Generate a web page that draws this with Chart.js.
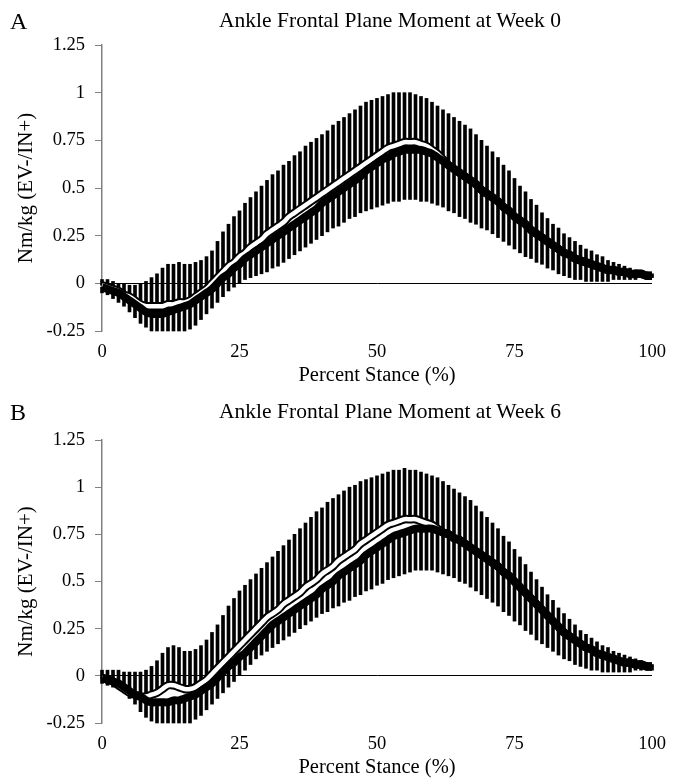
<!DOCTYPE html>
<html>
<head>
<meta charset="utf-8">
<script src="https://cdn.jsdelivr.net/npm/chart.js@4.4.1/dist/chart.umd.min.js"></script>
<style>
    body { margin: 0; background: #fff; }
    .panel { position: absolute; left: 0; width: 685px; }
    .letter { position: absolute; left: 10px; font: 24px "Liberation Serif"; line-height: 1; color: #000; }
    .title { position: absolute; left: 390px; transform: translateX(-50%); white-space: nowrap; font: 21.5px "Liberation Serif"; line-height: 1; color: #000; }
</style>
</head>
<body>
<div class="panel" style="top:0;height:392px">
    <canvas id="week0" width="685" height="392"></canvas>
    <div class="letter" style="top:9px">A</div>
    <div class="title" style="top:10px">Ankle Frontal Plane Moment at Week 0</div>
</div>
<div class="panel" style="top:395px;height:389px">
    <canvas id="week6" width="685" height="389"></canvas>
    <div class="letter" style="top:5px">B</div>
    <div class="title" style="top:6px">Ankle Frontal Plane Moment at Week 6</div>
</div>
<script>
// Categories
const stance = Array.from({length: 101}, (_, i) => i);
const xTicks = [0, 25, 50, 75, 100];
const yTicks = [-0.25, 0, 0.25, 0.5, 0.75, 1, 1.25];
const yTickLabels = ['-0.25', '0', '0.25', '0.5', '0.75', '1', '1.25'];

// Week 0: black group mean, white group mean, white mean + SD, black mean - SD
const wk0Black = [
    -0.02, -0.03, -0.04, -0.05, -0.07, -0.09, -0.11, -0.13, -0.15, -0.16,
    -0.16, -0.16, -0.15, -0.14, -0.13, -0.12, -0.11, -0.09, -0.07, -0.05,
    -0.03, 0.00, 0.03, 0.05, 0.08, 0.10, 0.13, 0.15, 0.17, 0.19,
    0.21, 0.23, 0.25, 0.27, 0.29, 0.31, 0.33, 0.35, 0.37, 0.39,
    0.42, 0.44, 0.46, 0.48, 0.50, 0.52, 0.54, 0.56, 0.59, 0.61,
    0.63, 0.65, 0.66, 0.68, 0.69, 0.70, 0.70, 0.70, 0.70, 0.69,
    0.68, 0.66, 0.64, 0.62, 0.60, 0.58, 0.56, 0.54, 0.52, 0.49,
    0.47, 0.45, 0.43, 0.40, 0.38, 0.35, 0.33, 0.31, 0.28, 0.26,
    0.24, 0.22, 0.20, 0.18, 0.16, 0.15, 0.13, 0.12, 0.11, 0.10,
    0.09, 0.08, 0.07, 0.07, 0.06, 0.06, 0.05, 0.05, 0.05, 0.04,
    0.04
];
const wk0White = [
    -0.01, -0.02, -0.03, -0.04, -0.06, -0.07, -0.09, -0.11, -0.12, -0.12,
    -0.12, -0.12, -0.11, -0.11, -0.10, -0.10, -0.09, -0.07, -0.05, -0.03,
    0.00, 0.03, 0.06, 0.09, 0.11, 0.14, 0.16, 0.19, 0.21, 0.23,
    0.26, 0.28, 0.30, 0.32, 0.35, 0.37, 0.39, 0.41, 0.43, 0.45,
    0.47, 0.49, 0.51, 0.53, 0.55, 0.57, 0.59, 0.61, 0.63, 0.65,
    0.67, 0.69, 0.71, 0.72, 0.73, 0.74, 0.74, 0.74, 0.73, 0.72,
    0.70, 0.68, 0.65, 0.62, 0.60, 0.58, 0.56, 0.54, 0.52, 0.49,
    0.47, 0.45, 0.43, 0.40, 0.38, 0.35, 0.33, 0.31, 0.28, 0.26,
    0.24, 0.22, 0.20, 0.18, 0.16, 0.15, 0.13, 0.12, 0.11, 0.10,
    0.09, 0.08, 0.07, 0.07, 0.06, 0.06, 0.05, 0.05, 0.05, 0.04,
    0.04
];
const wk0WhiteUpper = [
    0.02, 0.02, 0.01, 0.00, 0.00, -0.01, -0.01, 0.00, 0.01, 0.03,
    0.05, 0.08, 0.10, 0.10, 0.11, 0.10, 0.10, 0.11, 0.12, 0.14,
    0.17, 0.22, 0.27, 0.31, 0.35, 0.38, 0.42, 0.45, 0.48, 0.51,
    0.54, 0.57, 0.59, 0.62, 0.64, 0.67, 0.69, 0.72, 0.74, 0.76,
    0.78, 0.80, 0.83, 0.85, 0.87, 0.89, 0.91, 0.93, 0.95, 0.96,
    0.97, 0.98, 0.99, 1.00, 1.00, 1.00, 1.00, 0.99, 0.98, 0.97,
    0.95, 0.93, 0.91, 0.89, 0.87, 0.85, 0.83, 0.81, 0.78, 0.75,
    0.72, 0.69, 0.66, 0.62, 0.59, 0.55, 0.51, 0.48, 0.44, 0.41,
    0.37, 0.34, 0.31, 0.29, 0.26, 0.24, 0.22, 0.20, 0.18, 0.17,
    0.15, 0.14, 0.12, 0.11, 0.10, 0.09, 0.08, 0.07, 0.06, 0.06,
    0.05
];
const wk0BlackLower = [
    -0.05, -0.06, -0.08, -0.10, -0.12, -0.15, -0.18, -0.21, -0.23, -0.25,
    -0.25, -0.25, -0.25, -0.25, -0.25, -0.25, -0.24, -0.22, -0.19, -0.16,
    -0.13, -0.10, -0.07, -0.04, -0.02, 0.00, 0.02, 0.03, 0.04, 0.05,
    0.06, 0.08, 0.09, 0.11, 0.13, 0.15, 0.17, 0.19, 0.21, 0.23,
    0.25, 0.27, 0.29, 0.30, 0.32, 0.34, 0.35, 0.37, 0.38, 0.39,
    0.40, 0.41, 0.42, 0.43, 0.43, 0.44, 0.44, 0.44, 0.43, 0.43,
    0.42, 0.41, 0.40, 0.38, 0.37, 0.35, 0.34, 0.32, 0.31, 0.29,
    0.28, 0.26, 0.24, 0.22, 0.20, 0.18, 0.16, 0.14, 0.13, 0.11,
    0.10, 0.08, 0.07, 0.05, 0.04, 0.03, 0.02, 0.02, 0.01, 0.01,
    0.01, 0.01, 0.01, 0.02, 0.02, 0.02, 0.02, 0.02, 0.03, 0.03,
    0.03
];

// Week 6
const wk6Black = [
    -0.01, -0.02, -0.03, -0.04, -0.06, -0.08, -0.10, -0.11, -0.13, -0.14,
    -0.14, -0.14, -0.14, -0.13, -0.13, -0.12, -0.11, -0.10, -0.08, -0.06,
    -0.04, -0.01, 0.02, 0.05, 0.07, 0.10, 0.12, 0.15, 0.18, 0.21,
    0.24, 0.27, 0.29, 0.31, 0.33, 0.35, 0.37, 0.39, 0.41, 0.43,
    0.46, 0.48, 0.50, 0.53, 0.55, 0.57, 0.59, 0.61, 0.64, 0.66,
    0.68, 0.70, 0.72, 0.74, 0.75, 0.76, 0.77, 0.78, 0.78, 0.78,
    0.78, 0.77, 0.76, 0.75, 0.73, 0.72, 0.70, 0.68, 0.66, 0.64,
    0.62, 0.60, 0.58, 0.55, 0.53, 0.50, 0.47, 0.44, 0.41, 0.38,
    0.35, 0.32, 0.29, 0.26, 0.23, 0.21, 0.19, 0.17, 0.15, 0.14,
    0.12, 0.11, 0.10, 0.09, 0.08, 0.07, 0.07, 0.06, 0.06, 0.05,
    0.05
];
const wk6White = [
    -0.01, -0.02, -0.03, -0.05, -0.07, -0.09, -0.10, -0.11, -0.11, -0.10,
    -0.09, -0.07, -0.05, -0.05, -0.06, -0.07, -0.07, -0.06, -0.04, -0.02,
    0.01, 0.04, 0.07, 0.10, 0.13, 0.16, 0.19, 0.22, 0.25, 0.28,
    0.31, 0.33, 0.35, 0.38, 0.40, 0.42, 0.44, 0.47, 0.49, 0.51,
    0.54, 0.56, 0.58, 0.61, 0.63, 0.65, 0.67, 0.70, 0.72, 0.74,
    0.76, 0.78, 0.80, 0.81, 0.82, 0.83, 0.83, 0.83, 0.82, 0.81,
    0.80, 0.78, 0.76, 0.75, 0.73, 0.72, 0.70, 0.68, 0.66, 0.64,
    0.62, 0.60, 0.58, 0.55, 0.53, 0.50, 0.47, 0.44, 0.41, 0.38,
    0.35, 0.32, 0.29, 0.26, 0.23, 0.21, 0.19, 0.17, 0.15, 0.14,
    0.12, 0.11, 0.10, 0.09, 0.08, 0.07, 0.07, 0.06, 0.06, 0.05,
    0.05
];
const wk6WhiteUpper = [
    0.03, 0.03, 0.03, 0.03, 0.02, 0.02, 0.02, 0.02, 0.03, 0.05,
    0.08, 0.12, 0.15, 0.16, 0.15, 0.13, 0.13, 0.14, 0.16, 0.19,
    0.23, 0.27, 0.32, 0.37, 0.41, 0.45, 0.48, 0.51, 0.54, 0.57,
    0.60, 0.63, 0.66, 0.69, 0.72, 0.75, 0.78, 0.81, 0.84, 0.87,
    0.89, 0.92, 0.94, 0.96, 0.98, 1.00, 1.01, 1.03, 1.04, 1.05,
    1.06, 1.07, 1.08, 1.09, 1.09, 1.10, 1.09, 1.09, 1.08, 1.07,
    1.06, 1.05, 1.03, 1.01, 0.99, 0.97, 0.95, 0.93, 0.90, 0.87,
    0.84, 0.81, 0.78, 0.74, 0.71, 0.67, 0.63, 0.59, 0.55, 0.51,
    0.47, 0.43, 0.40, 0.36, 0.33, 0.30, 0.27, 0.24, 0.22, 0.20,
    0.18, 0.16, 0.15, 0.13, 0.12, 0.11, 0.10, 0.09, 0.08, 0.07,
    0.06
];
const wk6BlackLower = [
    -0.04, -0.05, -0.06, -0.07, -0.09, -0.12, -0.15, -0.19, -0.22, -0.24,
    -0.25, -0.25, -0.25, -0.25, -0.25, -0.25, -0.25, -0.23, -0.21, -0.18,
    -0.15, -0.12, -0.09, -0.06, -0.03, 0.00, 0.03, 0.06, 0.09, 0.11,
    0.13, 0.15, 0.17, 0.19, 0.21, 0.23, 0.25, 0.27, 0.29, 0.31,
    0.33, 0.34, 0.36, 0.37, 0.39, 0.40, 0.42, 0.43, 0.45, 0.46,
    0.48, 0.49, 0.51, 0.52, 0.53, 0.54, 0.55, 0.56, 0.56, 0.56,
    0.56, 0.55, 0.54, 0.53, 0.52, 0.50, 0.49, 0.47, 0.45, 0.43,
    0.41, 0.39, 0.37, 0.34, 0.32, 0.29, 0.27, 0.24, 0.22, 0.19,
    0.17, 0.15, 0.13, 0.11, 0.09, 0.08, 0.06, 0.05, 0.04, 0.03,
    0.03, 0.02, 0.02, 0.02, 0.02, 0.02, 0.02, 0.03, 0.03, 0.03,
    0.03
];

// Style
const serif = "'Liberation Serif', 'Times New Roman', serif";

// Function
const toPoints = (values) => stance.map((x, i) => ({x: x, y: values[i]}));
const toRanges = (from, to) => stance.map((x, i) => ({x: x, y: [from[i], to[i]]}));

const makeChart = (canvasId, blackMean, whiteMean, whiteUpper, blackLower) => {
    let canvas = document.getElementById(canvasId);
    new Chart(canvas, {
        type: 'line',
        data: {
            datasets: [
                {
                    type: 'line',
                    data: toPoints(blackMean),
                    borderColor: '#000',
                    borderWidth: 8,
                    tension: 0.4,
                    pointRadius: 0,
                    order: 0
                }, {
                    type: 'line',
                    data: toPoints(whiteMean),
                    borderColor: '#fff',
                    borderWidth: 4.5,
                    tension: 0.4,
                    pointRadius: 0,
                    order: 1
                }, {
                    type: 'line',
                    data: toPoints(whiteMean),
                    borderColor: '#000',
                    borderWidth: 8.5,
                    tension: 0.4,
                    pointRadius: 0,
                    order: 2
                }, {
                    type: 'bar',
                    data: toRanges(whiteMean, whiteUpper),
                    backgroundColor: '#000',
                    barThickness: 3,
                    grouped: false,
                    clip: 4,
                    order: 3
                }, {
                    type: 'bar',
                    data: toRanges(blackLower, blackMean),
                    backgroundColor: '#000',
                    barThickness: 3,
                    grouped: false,
                    clip: 4,
                    order: 4
                }
            ]
        },
        options: {
            responsive: false,
            animation: false,
            layout: {padding: {top: 45, left: 0, right: 33, bottom: 0}},
            plugins: {legend: {display: false}, tooltip: {enabled: false}},
            scales: {
                x: {
                    type: 'linear',
                    min: 0,
                    max: 100,
                    offset: false,
                    afterBuildTicks: (s) => { s.ticks = xTicks.map(v => ({value: v})); },
                    afterFit: (s) => { s.height = 61; },
                    ticks: {color: '#000', font: {family: serif, size: 18.5}, padding: 10, maxRotation: 0},
                    grid: {display: false, drawTicks: false},
                    border: {display: false},
                    title: {display: true, text: 'Percent Stance (%)', color: '#000', font: {family: serif, size: 20.5}, padding: {top: 0, bottom: 4}}
                },
                y: {
                    min: -0.25,
                    max: 1.25,
                    afterBuildTicks: (s) => { s.ticks = yTicks.map(v => ({value: v})); },
                    afterFit: (s) => { s.width = 102; },
                    ticks: {
                        color: '#000',
                        font: {family: serif, size: 18.5},
                        padding: 10,
                        callback: (value, index) => yTickLabels[index]
                    },
                    grid: {
                        color: (c) => (c.tick && c.tick.value === 0) ? '#000' : 'rgba(0,0,0,0)',
                        lineWidth: 1,
                        tickColor: '#808080',
                        tickLength: 7
                    },
                    border: {color: '#808080', width: 1.5},
                    title: {display: true, text: 'Nm/kg (EV-/IN+)', color: '#000', font: {family: serif, size: 21}, padding: {top: 14, bottom: 0}}
                }
            }
        }
    });
}

// Init
makeChart('week0', wk0Black, wk0White, wk0WhiteUpper, wk0BlackLower);
makeChart('week6', wk6Black, wk6White, wk6WhiteUpper, wk6BlackLower);
</script>
</body>
</html>
